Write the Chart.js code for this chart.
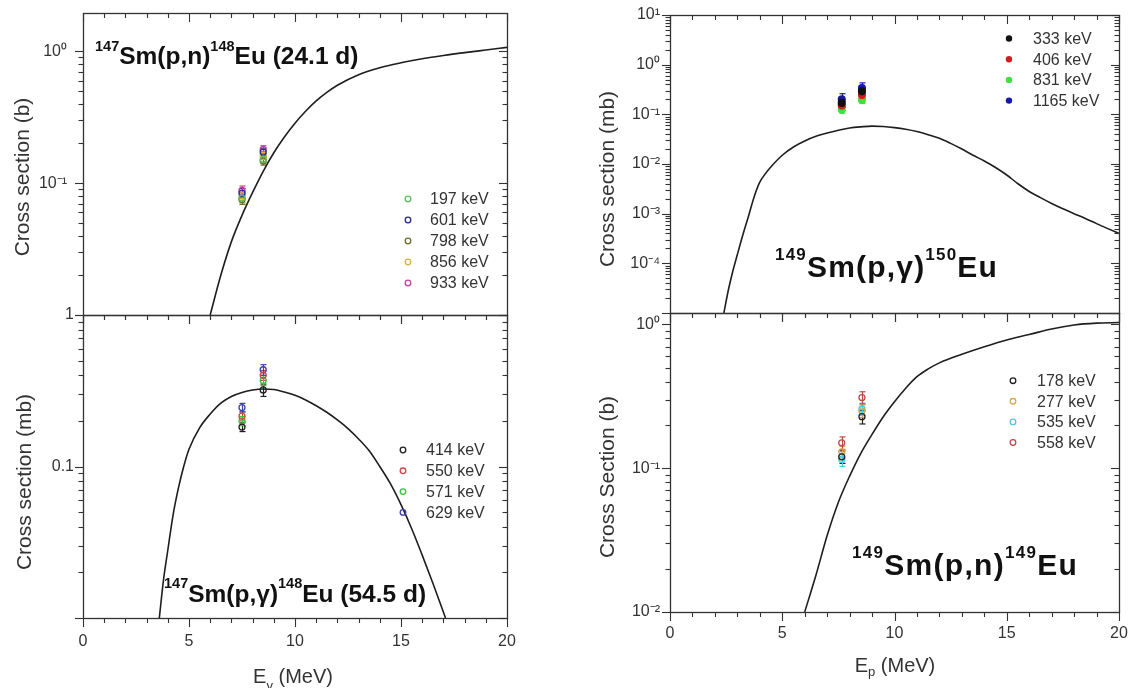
<!DOCTYPE html>
<html>
<head>
<meta charset="utf-8">
<script src="https://cdn.jsdelivr.net/npm/chart.js@4.4.1/dist/chart.umd.min.js"></script>
<style>
html,body{margin:0;padding:0;background:#fff;}
#wrap{position:relative;width:1132px;height:688px;overflow:hidden;background:#fff;}
#wrap canvas{position:absolute;left:0;top:0;}
</style>
</head>
<body>
<div id="wrap">
<canvas id="cA" width="1132" height="688"></canvas>
<canvas id="cB" width="1132" height="688"></canvas>
<canvas id="cC" width="1132" height="688"></canvas>
<canvas id="cD" width="1132" height="688"></canvas>
</div>
<script>
// ================= DATA =================
const xTickValues = [0, 5, 10, 15, 20];

// Panel A : 147Sm(p,n)148Eu (24.1 d), cross section (b)
const A_curveE = [6.0, 6.5, 7.0, 7.5, 8.0, 8.5, 9.0, 9.5, 10.0, 10.5, 11.0, 11.5, 12.0, 13.0, 14.0, 15.0, 16.0, 17.0, 18.0, 19.0, 20.0];
const A_curveS = [0.010, 0.020, 0.036, 0.057, 0.085, 0.123, 0.170, 0.224, 0.285, 0.351, 0.420, 0.487, 0.552, 0.663, 0.750, 0.817, 0.876, 0.928, 0.976, 1.022, 1.070];
const A_pointE = [7.5, 8.5];
const A_names = ['197 keV', '601 keV', '798 keV', '856 keV', '933 keV'];
const A_197 = [0.077, 0.152], A_197err = [0.006, 0.010];
const A_601 = [0.084, 0.172], A_601err = [0.007, 0.012];
const A_798 = [0.075, 0.147], A_798err = [0.006, 0.010];
const A_856 = [0.080, 0.162], A_856err = [0.006, 0.011];
const A_933 = [0.088, 0.180], A_933err = [0.007, 0.012];
const A_yTicks = [0.1, 1];
const A_yTickLabels = ['10⁻¹', '10⁰'];

// Panel B : 147Sm(p,γ)148Eu (54.5 d), cross section (mb)
const B_curveE = [3.6, 3.8, 4.0, 4.25, 4.5, 4.75, 5.0, 5.5, 6.0, 6.5, 7.0, 7.5, 8.0, 8.5, 9.0, 9.5, 10.0, 10.5, 11.0, 11.5, 12.0, 12.5, 13.0, 13.5, 14.0, 14.5, 15.0, 15.5, 16.0, 16.5, 17.1];
const B_curveS = [0.010, 0.018, 0.028, 0.048, 0.072, 0.100, 0.130, 0.180, 0.222, 0.262, 0.290, 0.308, 0.320, 0.325, 0.322, 0.310, 0.295, 0.275, 0.252, 0.228, 0.203, 0.178, 0.152, 0.127, 0.100, 0.077, 0.056, 0.039, 0.026, 0.017, 0.010];
const B_pointE = [7.5, 8.5];
const B_names = ['414 keV', '550 keV', '571 keV', '629 keV'];
const B_414 = [0.182, 0.320], B_414err = [0.012, 0.030];
const B_550 = [0.215, 0.400], B_550err = [0.015, 0.030];
const B_571 = [0.200, 0.370], B_571err = [0.014, 0.028];
const B_629 = [0.245, 0.435], B_629err = [0.016, 0.035];
const B_yTicks = [0.1, 1];
const B_yTickLabels = ['0.1', '1'];

// Panel C : 149Sm(p,γ)150Eu, cross section (mb)
const C_curveE = [2.4, 2.6, 2.8, 3.0, 3.25, 3.5, 3.75, 4.0, 4.25, 4.5, 5.0, 5.5, 6.0, 6.5, 7.0, 7.5, 8.0, 8.5, 9.0, 9.5, 10.0, 10.5, 11.0, 11.5, 12.0, 12.5, 13.0, 13.5, 14.0, 14.5, 15.0, 15.5, 16.0, 16.5, 17.0, 17.5, 18.0, 18.5, 19.0, 19.5, 20.0];
const C_curveS = [1.0e-5, 2.9e-5, 7.0e-5, 1.5e-4, 3.8e-4, 9.0e-4, 2.2e-3, 4.3e-3, 6.4e-3, 8.8e-3, 0.0150, 0.022, 0.029, 0.036, 0.042, 0.048, 0.053, 0.056, 0.058, 0.057, 0.054, 0.050, 0.045, 0.039, 0.033, 0.026, 0.020, 0.015, 0.0115, 0.0085, 0.0060, 0.0040, 0.0028, 0.0021, 0.0016, 0.00125, 0.00100, 0.00080, 0.00063, 0.00050, 0.00040];
const C_pointE = [7.65, 8.55];
const C_names = ['333 keV', '406 keV', '831 keV', '1165 keV'];
const C_333 = [0.170, 0.290], C_333err = [0.030, 0.050];
const C_406 = [0.150, 0.245], C_406err = [0.030, 0.040];
const C_831 = [0.125, 0.195], C_831err = [0.020, 0.030];
const C_1165 = [0.200, 0.340], C_1165err = [0.060, 0.090];
const C_yTicks = [1e-4, 1e-3, 1e-2, 1e-1, 1, 10];
const C_yTickLabels = ['10⁻⁴', '10⁻³', '10⁻²', '10⁻¹', '10⁰', '10¹'];

// Panel D : 149Sm(p,n)149Eu, cross section (b)
const D_curveE = [6.0, 6.5, 7.0, 7.5, 8.0, 8.5, 9.0, 9.5, 10.0, 10.5, 11.0, 11.5, 12.0, 13.0, 14.0, 15.0, 16.0, 17.0, 18.0, 19.0, 20.0];
const D_curveS = [0.010, 0.018, 0.034, 0.058, 0.088, 0.127, 0.172, 0.228, 0.290, 0.360, 0.433, 0.490, 0.540, 0.620, 0.700, 0.780, 0.850, 0.930, 0.990, 1.020, 1.030];
const D_pointE = [7.65, 8.55];
const D_names = ['178 keV', '277 keV', '535 keV', '558 keV'];
const D_178 = [0.120, 0.228], D_178err = [0.012, 0.025];
const D_277 = [0.130, 0.250], D_277err = [0.012, 0.025];
const D_535 = [0.115, 0.258], D_535err = [0.012, 0.025];
const D_558 = [0.150, 0.310], D_558err = [0.015, 0.030];
const D_yTicks = [0.01, 0.1, 1];
const D_yTickLabels = ['10⁻²', '10⁻¹', '10⁰'];

// ================= STYLE / LAYOUT =================
const FONT = "'Liberation Sans', Arial, Helvetica, sans-serif";
const FRAME = '#333333';
const TXT = '#333333';
const W = 1132, H = 688, YW = 70, XH = 44;

const panels = [
  {
    id: 'cA', area: {l: 83, t: 13, r: 507, b: 315}, yMin: 0.01, yMax: 1.95,
    yTicks: A_yTicks, yTickLabels: A_yTickLabels, yPad: 16, showX: false,
    curveE: A_curveE, curveS: A_curveS, pointE: A_pointE,
    series: [
      {name: A_names[0], v: A_197, e: A_197err, c: '#5cc05c'},
      {name: A_names[1], v: A_601, e: A_601err, c: '#2a2a8c'},
      {name: A_names[2], v: A_798, e: A_798err, c: '#6e6e2c'},
      {name: A_names[3], v: A_856, e: A_856err, c: '#d8b040'},
      {name: A_names[4], v: A_933, e: A_933err, c: '#c040a0'}
    ], filled: false,
    legend: {mx: 408, tx: 430, y0: 199, dy: 21},
    title: {x: 95, y: 64, ls: 0, parts: [
      {t: '147', s: 14.5, dy: -13}, {t: 'Sm(p,n)', s: 24.5}, {t: '148', s: 14.5, dy: -13}, {t: 'Eu (24.1 d)', s: 24.5}]},
    yTitle: {t: 'Cross section (b)', x: 23, y: 177},
    xTitle: null
  },
  {
    id: 'cB', area: {l: 83, t: 315, r: 507, b: 618}, yMin: 0.01, yMax: 1,
    yTicks: B_yTicks, yTickLabels: B_yTickLabels, yPad: 9, showX: true, xPad: 14,
    curveE: B_curveE, curveS: B_curveS, pointE: B_pointE,
    series: [
      {name: B_names[0], v: B_414, e: B_414err, c: '#202020'},
      {name: B_names[1], v: B_550, e: B_550err, c: '#c84848'},
      {name: B_names[2], v: B_571, e: B_571err, c: '#40c040'},
      {name: B_names[3], v: B_629, e: B_629err, c: '#4040b0'}
    ], filled: false,
    legend: {mx: 403, tx: 426, y0: 450, dy: 20.8},
    title: {x: 164, y: 602, ls: 0, parts: [
      {t: '147', s: 14.5, dy: -14}, {t: 'Sm(p,γ)', s: 24.5}, {t: '148', s: 14.5, dy: -14}, {t: 'Eu (54.5 d)', s: 24.5}]},
    yTitle: {t: 'Cross section (mb)', x: 25, y: 482},
    xTitle: {x: 293, y: 683, parts: [{t: 'E', s: 20}, {t: 'γ', s: 13, dy: 7}, {t: ' (MeV)', s: 20}]}
  },
  {
    id: 'cC', area: {l: 670, t: 15, r: 1119, b: 313}, yMin: 1e-5, yMax: 10,
    yTicks: C_yTicks, yTickLabels: C_yTickLabels, yPad: 10, showX: false,
    curveE: C_curveE, curveS: C_curveS, pointE: C_pointE,
    series: [
      {name: C_names[0], v: C_333, e: C_333err, c: '#101010'},
      {name: C_names[1], v: C_406, e: C_406err, c: '#cc2020'},
      {name: C_names[2], v: C_831, e: C_831err, c: '#40e040'},
      {name: C_names[3], v: C_1165, e: C_1165err, c: '#1818a8'}
    ], filled: true,
    legend: {mx: 1009, tx: 1033, y0: 38.5, dy: 20.7},
    title: {x: 775, y: 277, ls: 1.2, parts: [
      {t: '149', s: 17, dy: -17}, {t: 'Sm(p,γ)', s: 30}, {t: '150', s: 17, dy: -17}, {t: 'Eu', s: 30}]},
    yTitle: {t: 'Cross section (mb)', x: 608, y: 179},
    xTitle: null
  },
  {
    id: 'cD', area: {l: 670, t: 313, r: 1119, b: 612}, yMin: 0.01, yMax: 1.2,
    yTicks: D_yTicks, yTickLabels: D_yTickLabels, yPad: 10, showX: true, xPad: 12,
    curveE: D_curveE, curveS: D_curveS, pointE: D_pointE,
    series: [
      {name: D_names[0], v: D_178, e: D_178err, c: '#202020'},
      {name: D_names[1], v: D_277, e: D_277err, c: '#d8a848'},
      {name: D_names[2], v: D_535, e: D_535err, c: '#40d0e0'},
      {name: D_names[3], v: D_558, e: D_558err, c: '#c04848'}
    ], filled: false,
    legend: {mx: 1013, tx: 1037, y0: 380.7, dy: 20.6},
    title: {x: 852, y: 575, ls: 1.3, parts: [
      {t: '149', s: 17, dy: -17}, {t: 'Sm(p,n)', s: 30}, {t: '149', s: 17, dy: -17}, {t: 'Eu', s: 30}]},
    yTitle: {t: 'Cross Section (b)', x: 608, y: 477},
    xTitle: {x: 895, y: 672, parts: [{t: 'E', s: 20}, {t: 'p', s: 13, dy: 4}, {t: ' (MeV)', s: 20}]}
  }
];

// ================= DRAW HELPERS =================
function richText(ctx, x, y, parts, align, bold, ls) {
  ctx.save();
  ctx.textBaseline = 'alphabetic';
  ctx.textAlign = 'left';
  ctx.letterSpacing = (ls || 0) + 'px';
  const fontOf = p => (bold ? 'bold ' : '') + p.s + 'px ' + FONT;
  let w = 0;
  parts.forEach(p => { ctx.font = fontOf(p); w += ctx.measureText(p.t).width; });
  let cx = align === 'center' ? x - w / 2 : x;
  parts.forEach(p => {
    ctx.font = fontOf(p);
    ctx.fillText(p.t, cx, y + (p.dy || 0));
    cx += ctx.measureText(p.t).width;
  });
  ctx.restore();
}

function seg(ctx, x1, y1, x2, y2) {
  ctx.beginPath(); ctx.moveTo(x1, y1); ctx.lineTo(x2, y2); ctx.stroke();
}

function makeDecor(p) {
  return {
    id: 'decor_' + p.id,
    beforeDatasetsDraw(chart) {
      const ctx = chart.ctx, ys = chart.scales.y, xs = chart.scales.x;
      ctx.save();
      ctx.lineWidth = 1.2;
      chart.data.datasets.forEach(ds => {
        if (!ds.errs) return;
        ctx.strokeStyle = ds.pointBorderColor;
        ds.data.forEach((pt, i) => {
          const px = Math.round(xs.getPixelForValue(pt.x)) + 0.5;
          const y1 = ys.getPixelForValue(pt.y + ds.errs[i]);
          const y2 = ys.getPixelForValue(pt.y - ds.errs[i]);
          seg(ctx, px, y1, px, y2);
          seg(ctx, px - 3, y1, px + 3, y1);
          seg(ctx, px - 3, y2, px + 3, y2);
        });
      });
      ctx.restore();
    },
    afterDraw(chart) {
      const ctx = chart.ctx, a = chart.chartArea, xs = chart.scales.x, ys = chart.scales.y;
      ctx.save();
      ctx.strokeStyle = FRAME;
      ctx.lineWidth = 1.3;
      // frame
      ctx.strokeRect(Math.round(a.left) + 0.5, Math.round(a.top) + 0.5,
        Math.round(a.right - a.left), Math.round(a.bottom - a.top));
      // x ticks (top inward, bottom outward)
      ctx.lineWidth = 1.1;
      for (let v = 0; v <= 20; v++) {
        const px = Math.round(xs.getPixelForValue(v)) + 0.5;
        const L = v % 5 === 0 ? 9 : 5;
        seg(ctx, px, a.top, px, a.top + L);
        seg(ctx, px, a.bottom, px, a.bottom + L);
      }
      // y ticks (left outward, right inward)
      const d0 = Math.floor(Math.log10(p.yMin) + 1e-9), d1 = Math.ceil(Math.log10(p.yMax) - 1e-9);
      for (let d = d0; d <= d1; d++) {
        for (let k = 1; k <= 9; k++) {
          const v = k * Math.pow(10, d);
          if (v < p.yMin * 0.999 || v > p.yMax * 1.001) continue;
          const py = Math.round(ys.getPixelForValue(v)) + 0.5;
          const L = k === 1 ? 8 : 4.5;
          seg(ctx, a.left - L, py, a.left, py);
          seg(ctx, a.right - L, py, a.right, py);
        }
      }
      // legend
      ctx.textBaseline = 'middle';
      ctx.textAlign = 'left';
      ctx.font = '16px ' + FONT;
      p.series.forEach((s, i) => {
        const y = p.legend.y0 + i * p.legend.dy;
        ctx.beginPath();
        ctx.arc(p.legend.mx, y, p.filled ? 3.2 : 2.8, 0, Math.PI * 2);
        if (p.filled) { ctx.fillStyle = s.c; ctx.fill(); }
        else { ctx.strokeStyle = s.c; ctx.lineWidth = 1.3; ctx.stroke(); }
        ctx.fillStyle = TXT;
        ctx.fillText(s.name, p.legend.tx, y + 1);
      });
      // reaction title
      ctx.fillStyle = '#111';
      richText(ctx, p.title.x, p.title.y, p.title.parts, 'left', true, p.title.ls);
      // y axis title
      ctx.fillStyle = TXT;
      ctx.save();
      ctx.translate(p.yTitle.x, p.yTitle.y);
      ctx.rotate(-Math.PI / 2);
      ctx.font = '21px ' + FONT;
      ctx.textAlign = 'center';
      ctx.textBaseline = 'middle';
      ctx.fillText(p.yTitle.t, 0, 0);
      ctx.restore();
      // x axis title
      if (p.xTitle) {
        ctx.fillStyle = TXT;
        richText(ctx, p.xTitle.x, p.xTitle.y, p.xTitle.parts, 'center', false, 0);
      }
      ctx.restore();
    }
  };
}

function buildPanel(p) {
  const datasets = [];
  datasets.push({
    label: 'model',
    data: p.curveE.map((x, i) => ({x: x, y: p.curveS[i]})),
    showLine: true, borderColor: '#1e1e1e', borderWidth: 1.6,
    pointRadius: 0, cubicInterpolationMode: 'monotone', fill: false, order: 10
  });
  p.series.forEach(s => {
    datasets.push({
      label: s.name,
      data: p.pointE.map((x, i) => ({x: x, y: s.v[i]})),
      errs: s.e,
      showLine: false,
      pointStyle: 'circle',
      pointRadius: p.filled ? 3.4 : 3,
      pointBorderWidth: 1.3,
      pointBorderColor: s.c,
      pointBackgroundColor: p.filled ? s.c : 'rgba(255,255,255,0)',
      order: 1
    });
  });
  const xScale = {
    type: 'linear', min: 0, max: 20, display: p.showX,
    afterBuildTicks: sc => { sc.ticks = xTickValues.map(v => ({value: v})); },
    grid: {display: false, drawTicks: false},
    border: {display: false},
    ticks: {padding: p.xPad || 10, autoSkip: false, maxRotation: 0, color: TXT, font: {family: FONT, size: 16}}
  };
  xScale.afterFit = sc => {
    if (p.showX) sc.height = XH;
    sc.paddingLeft = 0; sc.paddingRight = 0;
  };
  new Chart(document.getElementById(p.id), {
    type: 'scatter',
    data: {datasets: datasets},
    options: {
      responsive: false, animation: false, events: [],
      layout: {padding: {
        left: p.area.l - YW, top: p.area.t, right: W - p.area.r,
        bottom: H - p.area.b - (p.showX ? XH : 0)}},
      plugins: {legend: {display: false}, tooltip: {enabled: false}},
      scales: {
        x: xScale,
        y: {
          type: 'logarithmic', min: p.yMin, max: p.yMax,
          afterBuildTicks: sc => { sc.ticks = p.yTicks.map(v => ({value: v})); },
          afterFit: sc => { sc.width = YW; sc.paddingTop = 0; sc.paddingBottom = 0; },
          grid: {display: false, drawTicks: false},
          border: {display: false},
          ticks: {padding: p.yPad, autoSkip: false, color: TXT, font: {family: FONT, size: 16},
            callback: (v, i) => p.yTickLabels[i]}
        }
      }
    },
    plugins: [makeDecor(p)]
  });
}

panels.forEach(buildPanel);
</script>
</body>
</html>
